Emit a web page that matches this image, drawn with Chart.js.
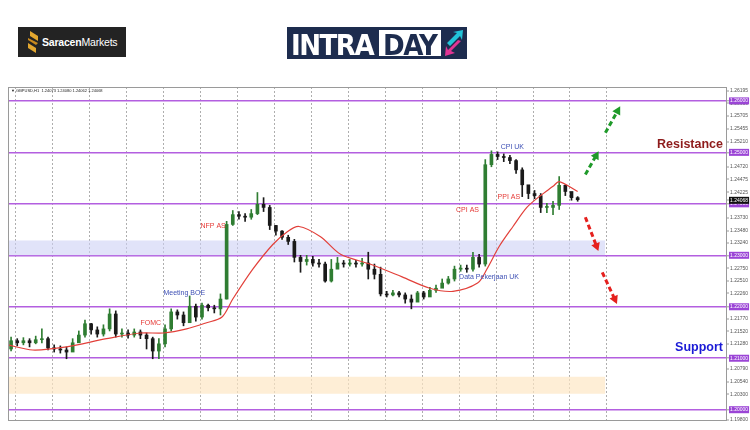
<!DOCTYPE html>
<html>
<head>
<meta charset="utf-8">
<script src="https://cdn.jsdelivr.net/npm/chart.js@4.4.0/dist/chart.umd.min.js"></script>
<style>
html,body{margin:0;padding:0;background:#fff;}
#wrap{position:relative;width:750px;height:430px;overflow:hidden;font-family:"Liberation Sans",Arial,sans-serif;}
#chart{position:absolute;left:0;top:0;}
.saracen{position:absolute;left:18px;top:27px;width:108px;height:30px;background:#232323;}
.saracen svg{position:absolute;left:8px;top:4px;}
.saracen span{position:absolute;left:24px;top:9px;color:#fff;font-size:10.5px;letter-spacing:-0.2px;}
.saracen b{font-weight:bold;}
.intraday{position:absolute;left:287px;top:27px;width:180px;height:32px;background:#1d2c4e;}
.intraday .t1{position:absolute;left:4px;top:1px;color:#fff;font:bold 29px "DejaVu Sans";font-stretch:condensed;letter-spacing:-1.5px;}
.intraday .box{position:absolute;left:92px;top:3px;width:62px;height:26px;background:#fff;}
.intraday .t2{position:absolute;left:96px;top:1px;color:#1d2c4e;font:bold 29px "DejaVu Sans";font-stretch:condensed;letter-spacing:-1.5px;}
.intraday svg{position:absolute;left:156px;top:2px;}
</style>
</head>
<body>
<div id="wrap">
  <canvas id="chart" width="750" height="430"></canvas>
  <div class="saracen">
    <svg width="14" height="22" viewBox="0 0 14 22">
      <polygon points="4,0 12,5 12,10 4,5" fill="#e3a72f"/>
      <polygon points="2,7 12,12 10,14 2,9" fill="#c98a1e"/>
      <polygon points="2,12 10,17 10,22 2,17" fill="#e3a72f"/>
    </svg>
    <span><b>Saracen</b>Markets</span>
  </div>
  <div class="intraday">
    <div class="t1">INTRA</div>
    <div class="box"></div>
    <div class="t2">DAY</div>
    <svg width="22" height="28" viewBox="0 0 22 28">
      <polygon points="4,14 14,4 10,3 20,1 19,11 17,7 7,17" fill="#22c4d8"/>
      <polygon points="18,12 8,22 12,24 2,27 3,17 5,21 15,11" fill="#e23594"/>
    </svg>
  </div>
</div>
<script>
const opens  = [1.2118,1.2134,1.2130,1.2134,1.2130,1.2136,1.2138,1.2120,1.2118,1.2116,1.2112,1.2130,1.2145,1.2167,1.2155,1.2147,1.2157,1.2186,1.2147,1.2149,1.2145,1.2151,1.2145,1.2138,1.2114,1.2128,1.2157,1.2190,1.2184,1.2169,1.2201,1.2180,1.2203,1.2198,1.2196,1.2215,1.2360,1.2379,1.2376,1.2374,1.2381,1.2399,1.2393,1.2358,1.2347,1.2335,1.2327,1.2296,1.2288,1.2292,1.2285,1.2283,1.2250,1.2273,1.2285,1.2283,1.2285,1.2283,1.2285,1.2273,1.2263,1.2225,1.2223,1.2227,1.2223,1.2215,1.2209,1.2227,1.2219,1.2232,1.2236,1.2246,1.2254,1.2273,1.2275,1.2273,1.2296,1.2283,1.2476,1.2496,1.2492,1.2490,1.2484,1.2466,1.2437,1.2420,1.2416,1.2393,1.2393,1.2397,1.2436,1.2424,1.2412];
const highs  = [1.2141,1.2138,1.2140,1.2138,1.2143,1.2157,1.2141,1.2126,1.2124,1.2122,1.2138,1.2153,1.2174,1.2168,1.2161,1.2165,1.2196,1.2192,1.2157,1.2155,1.2157,1.2155,1.2149,1.2141,1.2138,1.2165,1.2196,1.2194,1.2190,1.2221,1.2205,1.2207,1.2205,1.2203,1.2225,1.2366,1.2387,1.2385,1.2381,1.2389,1.2422,1.2412,1.2397,1.2358,1.2348,1.2339,1.2331,1.2300,1.2300,1.2298,1.2292,1.2287,1.2292,1.2296,1.2290,1.2292,1.2290,1.2294,1.2306,1.2283,1.2277,1.2230,1.2232,1.2230,1.2227,1.2223,1.2230,1.2230,1.2238,1.2242,1.2254,1.2259,1.2279,1.2281,1.2281,1.2306,1.2302,1.2486,1.2503,1.2501,1.2497,1.2494,1.2486,1.2470,1.2436,1.2426,1.2420,1.2401,1.2405,1.2453,1.2437,1.2422,1.2414];
const lows   = [1.2114,1.2124,1.2126,1.2122,1.2128,1.2130,1.2116,1.2112,1.2110,1.2099,1.2114,1.2132,1.2141,1.2147,1.2141,1.2143,1.2153,1.2141,1.2141,1.2139,1.2141,1.2138,1.2118,1.2099,1.2099,1.2122,1.2153,1.2176,1.2163,1.2172,1.2172,1.2176,1.2192,1.2188,1.2184,1.2215,1.2358,1.2370,1.2366,1.2370,1.2379,1.2385,1.2350,1.2339,1.2331,1.2321,1.2287,1.2267,1.2281,1.2279,1.2277,1.2248,1.2248,1.2277,1.2277,1.2279,1.2277,1.2279,1.2254,1.2254,1.2221,1.2219,1.2221,1.2219,1.2207,1.2196,1.2211,1.2215,1.2225,1.2228,1.2238,1.2244,1.2250,1.2269,1.2267,1.2269,1.2277,1.2279,1.2472,1.2486,1.2482,1.2478,1.2459,1.2414,1.2410,1.2410,1.2383,1.2383,1.2379,1.2389,1.2416,1.2407,1.2405];
const closes = [1.2134,1.2130,1.2134,1.2130,1.2136,1.2138,1.2120,1.2118,1.2116,1.2112,1.2130,1.2145,1.2167,1.2155,1.2147,1.2157,1.2186,1.2147,1.2149,1.2145,1.2151,1.2145,1.2138,1.2114,1.2128,1.2157,1.2190,1.2184,1.2169,1.2201,1.2180,1.2203,1.2198,1.2196,1.2215,1.2360,1.2379,1.2376,1.2374,1.2381,1.2399,1.2393,1.2358,1.2347,1.2335,1.2327,1.2296,1.2288,1.2292,1.2285,1.2283,1.2250,1.2273,1.2285,1.2283,1.2285,1.2283,1.2285,1.2273,1.2263,1.2225,1.2223,1.2227,1.2223,1.2215,1.2209,1.2227,1.2219,1.2232,1.2236,1.2246,1.2254,1.2273,1.2275,1.2273,1.2296,1.2283,1.2476,1.2496,1.2492,1.2490,1.2484,1.2466,1.2437,1.2420,1.2416,1.2393,1.2393,1.2397,1.2436,1.2424,1.2412,1.2408];

// moving average (red line)
const maHours  = [0,16,38,64,86,101,116,129,139,146,159,172,181,189,203,216,235,256,274,289,305,311,319,328,337,345,354,358,370];
const maValues = [1.2126,1.2116,1.2122,1.2138,1.2149,1.2149,1.2157,1.2169,1.2180,1.2215,1.2273,1.2321,1.2345,1.2356,1.2336,1.2302,1.2283,1.2258,1.2236,1.2230,1.2246,1.2273,1.2317,1.2356,1.2393,1.2414,1.2434,1.2443,1.2424];

// axes
const xLabels = ['26 Oct 2022','27 Oct 11:00','28 Oct 03:00','28 Oct 19:00','31 Oct 11:00','1 Nov 03:00','1 Nov 19:00','2 Nov 11:00','3 Nov 03:00','3 Nov 19:00','4 Nov 11:00','7 Nov 03:00','7 Nov 19:00','8 Nov 11:00','9 Nov 03:00','9 Nov 19:00','10 Nov 11:00','11 Nov 03:00','11 Nov 19:00','14 Nov 11:00','15 Nov 03:00','15 Nov 19:00','16 Nov 11:00','17 Nov 03:00'];
const labelHours = [0,16,32,48,64,80,96,112,128,144,160,176,192,208,224,240,256,272,288,304,320,336,352,368];
const gridHours = [5,29,53,77,101,125,149,173,197,221,245,269,293,317,341,365,389];
const priceTicks = [1.19800,1.20300,1.20540,1.20790,1.21280,1.21520,1.21770,1.22260,1.22510,1.22750,1.23240,1.23480,1.23730,1.24225,1.24475,1.24720,1.25210,1.25455,1.25705,1.25950,1.26195];
const levels = [1.20,1.21,1.22,1.23,1.24,1.25,1.26];
const lastPrice = 1.24068;

// zones
const zoneTops = [1.2329, 1.2064];
const zoneBottoms = [1.2300, 1.2031];
const zoneColors = ['rgba(205,208,245,0.6)', 'rgba(253,231,196,0.7)'];
const zoneHours = [0, 388];

// notes
const noteTexts  = ['FOMC','Meeting BOE','NFP AS','CPI UK','CPI AS','PPI AS','Data Pekerjaan UK'];
const noteHours  = [86,101,125,320,291,318,293];
const notePrices = [1.2168,1.2226,1.2356,1.2511,1.2387,1.2414,1.2257];
const noteColors = ['#e53935','#3f51b5','#e53935','#3f51b5','#e53935','#e53935','#3f51b5'];

// arrows
const arrowFrom = [[375,1.2457],[388,1.2538],[375,1.2374],[386,1.2267]];
const arrowTo   = [[383,1.2499],[397,1.2586],[383,1.2312],[395,1.2209]];
const arrowColors = ['#1f9a2a','#1f9a2a','#e5201e','#e5201e'];

const candleHours = opens.map((_, i) => 2 + 4 * i);
const candleColors = opens.map((o, i) => closes[i] >= o ? '#2f7d32' : '#1a1a1a');
const yTicks = [...new Set([...priceTicks, ...levels, lastPrice])].sort((a, b) => a - b);
const levelColor = '#b35fe0';

const overlay = {
  id: 'overlay',
  afterDatasetsDraw(chart){
    const {ctx, chartArea:a, scales:{x, y}} = chart;
    ctx.save();
    // notes
    ctx.textBaseline = 'middle';
    ctx.textAlign = 'left';
    ctx.font = '7px "Liberation Sans", Arial';
    noteTexts.forEach((t, i) => {
      ctx.fillStyle = noteColors[i];
      ctx.fillText(t, x.getPixelForValue(noteHours[i]), y.getPixelForValue(notePrices[i]));
    });
    // arrows
    arrowFrom.forEach((f, i) => {
      const x1 = x.getPixelForValue(f[0]), y1 = y.getPixelForValue(f[1]);
      const x2 = x.getPixelForValue(arrowTo[i][0]), y2 = y.getPixelForValue(arrowTo[i][1]);
      const ang = Math.atan2(y2 - y1, x2 - x1);
      ctx.strokeStyle = ctx.fillStyle = arrowColors[i];
      ctx.lineWidth = 3;
      ctx.setLineDash([5, 3]);
      ctx.beginPath();
      ctx.moveTo(x1, y1);
      ctx.lineTo(x2 - 4 * Math.cos(ang), y2 - 4 * Math.sin(ang));
      ctx.stroke();
      ctx.setLineDash([]);
      ctx.beginPath();
      ctx.moveTo(x2 + 2 * Math.cos(ang), y2 + 2 * Math.sin(ang));
      ctx.lineTo(x2 - 6 * Math.cos(ang) + 4.5 * Math.sin(ang), y2 - 6 * Math.sin(ang) - 4.5 * Math.cos(ang));
      ctx.lineTo(x2 - 6 * Math.cos(ang) - 4.5 * Math.sin(ang), y2 - 6 * Math.sin(ang) + 4.5 * Math.cos(ang));
      ctx.closePath();
      ctx.fill();
    });
    // support / resistance
    ctx.textAlign = 'right';
    ctx.font = 'bold 12.5px "Liberation Sans", Arial';
    ctx.fillStyle = '#8e1b1b';
    ctx.fillText('Resistance', a.right - 4, y.getPixelForValue(1.2515));
    ctx.fillStyle = '#1a1ad6';
    ctx.fillText('Support', a.right - 4, y.getPixelForValue(1.2120));
    // header + frame
    ctx.textAlign = 'left';
    ctx.font = '4px "Liberation Sans", Arial';
    ctx.fillStyle = '#222';
    ctx.fillText('\u25BC GBPUSD,H1  1.24073 1.24080 1.24062 1.24068', a.left + 3, a.top + 3.5);
    ctx.strokeStyle = '#9a9a9a';
    ctx.lineWidth = 1;
    ctx.strokeRect(a.left + 0.5, a.top + 0.5, a.width - 1, a.height);
    ctx.restore();
  }
};

new Chart(document.getElementById('chart'), {
  type: 'bar',
  data: {
    datasets: [
      ...zoneTops.map((t, i) => ({
        type: 'line', order: 5,
        data: zoneHours.map(h => ({x: h, y: t})),
        fill: {value: zoneBottoms[i]},
        backgroundColor: zoneColors[i], borderWidth: 0, pointRadius: 0
      })),
      {
        order: 3, grouped: false, barThickness: 1,
        data: candleHours.map((h, i) => ({x: h, y: [lows[i], highs[i]]})),
        backgroundColor: candleColors
      },
      {
        order: 2, grouped: false, barThickness: 3, minBarLength: 1,
        data: candleHours.map((h, i) => ({x: h, y: [opens[i], closes[i]]})),
        backgroundColor: candleColors
      },
      {
        type: 'line', order: 1,
        data: maHours.map((h, i) => ({x: h, y: maValues[i]})),
        borderColor: '#e2403a', borderWidth: 1.2, tension: 0.3, pointRadius: 0, fill: false
      }
    ]
  },
  options: {
    responsive: false, animation: false,
    layout: {padding: {left: 8, top: 87, right: 0, bottom: 0}},
    plugins: {legend: {display: false}, tooltip: {enabled: false}},
    scales: {
      x: {
        type: 'linear', position: 'bottom', min: 0, max: 467, offset: false,
        afterBuildTicks: s => { s.ticks = labelHours.map(v => ({value: v})); },
        afterFit: s => { s.height = 10; },
        grid: {display: false}, border: {display: false},
        ticks: {autoSkip: false, maxRotation: 0, align: 'start', padding: 2,
          font: {size: 5, family: '"Liberation Sans", Arial'}, color: '#444',
          callback: (v, i) => xLabels[i]}
      },
      x2: {
        type: 'linear', position: 'top', min: 0, max: 467, offset: false,
        afterBuildTicks: s => { s.ticks = gridHours.map(v => ({value: v})); },
        afterFit: s => { s.height = 0; },
        ticks: {display: false},
        grid: {color: '#9a9a9a', drawTicks: false, lineWidth: 0.8, offset: false},
        border: {display: false, dash: [2, 2]}
      },
      y: {
        type: 'linear', position: 'right', min: 1.1980, max: 1.2627,
        afterBuildTicks: s => { s.ticks = yTicks.map(v => ({value: v})); },
        afterFit: s => { s.width = 23; },
        border: {display: false},
        grid: {
          color: c => levels.includes(c.tick.value) ? levelColor : 'rgba(0,0,0,0)',
          lineWidth: c => levels.includes(c.tick.value) ? 1.6 : 0,
          tickColor: '#9a9a9a', tickWidth: 1, tickLength: 2
        },
        ticks: {
          autoSkip: false, padding: 1,
          font: {size: 5, family: '"Liberation Sans", Arial'},
          color: c => c.tick.value === lastPrice || levels.includes(c.tick.value) ? '#fff' : '#555',
          showLabelBackdrop: c => c.tick.value === lastPrice || levels.includes(c.tick.value),
          backdropColor: c => c.tick.value === lastPrice ? '#111' : '#9b45d6',
          backdropPadding: {x: 1, y: 0.5},
          callback: v => v.toFixed(5)
        }
      }
    }
  },
  plugins: [overlay]
});
</script>
</body>
</html>
